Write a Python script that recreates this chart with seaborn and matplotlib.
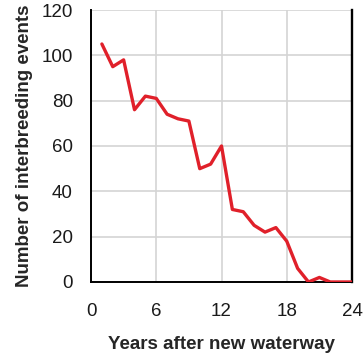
import matplotlib
matplotlib.use("Agg")
import matplotlib.pyplot as plt
import seaborn as sns
import pandas as pd

years = [1, 2, 3, 4, 5, 6, 7, 8, 9, 10, 11, 12, 13, 14, 15, 16, 17, 18, 19, 20, 21, 22, 23, 24]
events = [105, 95, 98, 76, 82, 81, 74, 72, 71, 50, 52, 60, 32, 31, 25, 22, 24, 18, 6, 0, 2, 0, 0, 0]
x_ticks = [0, 6, 12, 18, 24]
y_ticks = [0, 20, 40, 60, 80, 100, 120]

df = pd.DataFrame({"year": years, "events": events})

sns.set_style("white")
plt.rcParams['font.family'] = ['Liberation Sans', 'DejaVu Sans']

fig = plt.figure(figsize=(3.63, 3.56), dpi=100)
ax = fig.add_axes([0.2507, 0.2079, 0.719, 0.764])

sns.lineplot(data=df, x="year", y="events", ax=ax, color="#e0202a", linewidth=2.4, zorder=3)

ax.set_xlim(0, 24)
ax.set_ylim(0, 120)
ax.set_xticks(x_ticks)
ax.set_yticks(y_ticks)
ax.grid(True, color="#d4d4d4", linewidth=1.2)
for s in ["left", "bottom", "right"]:
    ax.spines[s].set_visible(True)
    ax.spines[s].set_color("black")
    ax.spines[s].set_linewidth(1.4)
ax.spines["right"].set_linewidth(1.7)
ax.spines["top"].set_visible(False)
ax.tick_params(axis="both", direction="out", length=7, width=1.4, color="black",
               labelsize=13.5, labelcolor="#1a1a1a")
ax.tick_params(axis="y", pad=6)
ax.tick_params(axis="x", pad=8)
ax.set_xlabel("Years after new waterway", fontsize=13.5, fontweight="bold", labelpad=12)
ax.set_ylabel("Number of interbreeding events", fontsize=13.5, fontweight="bold", labelpad=6)

fig.savefig("out.png", dpi=100)
